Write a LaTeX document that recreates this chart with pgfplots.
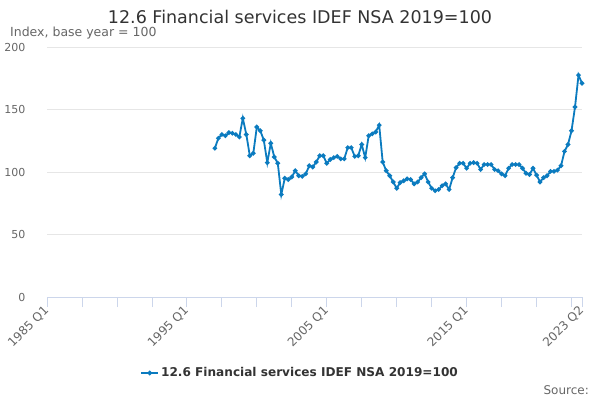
\documentclass[border=0pt]{standalone}
\usepackage{pgfplots}
\pgfplotsset{compat=1.18}
\usepackage{fontspec}
\setmainfont{DejaVu Sans}
\definecolor{serie}{HTML}{0B7BBF}
\definecolor{gridc}{HTML}{E6E6E6}
\definecolor{axisc}{HTML}{CCD6EB}
\definecolor{labc}{HTML}{666666}
\definecolor{titc}{HTML}{333333}
\begin{document}
\begin{tikzpicture}[x=1bp,y=1bp]
\path[use as bounding box] (0,0) rectangle (600,400);
\node[anchor=base,text=titc,font=\fontsize{17.5bp}{19bp}\selectfont,inner sep=0] at (300,377) {12.6 Financial services IDEF NSA 2019=100};
\node[anchor=base west,text=labc,font=\fontsize{12.5bp}{14bp}\selectfont,inner sep=0] at (10,364) {Index, base year = 100};
\node[anchor=base east,text=labc,font=\fontsize{12bp}{14bp}\selectfont,inner sep=0] at (589,6) {Source:};
\begin{axis}[
  at={(47bp,103bp)}, anchor=south west, scale only axis,
  width=535bp, height=250bp,
  xmin=0, xmax=153, ymin=0, ymax=200,
  axis x line*=bottom, axis y line*=left,
  y axis line style={draw=none},
  x axis line style={draw=axisc, line width=1bp},
  ytick={0,50,100,150,200},
  ymajorgrids, grid style={gridc, line width=0.8bp},
  ytick style={draw=none},
  yticklabel style={text=labc, font=\fontsize{11bp}{13bp}\selectfont, xshift=-8bp},
  xtick={0,40,80,120,153},
  xticklabels={1985 Q1,1995 Q1,2005 Q1,2015 Q1,2023 Q2},
  minor xtick={10,20,30,50,60,70,90,100,110,130,140,150},
  tick align=outside,
  xtick style={draw=axisc, line width=0.8bp},
  major tick length=10bp, minor tick length=10bp,
  xticklabel style={rotate=45, anchor=east, text=labc, font=\fontsize{12bp}{14bp}\selectfont, yshift=-1bp, xshift=2bp},
  /pgf/number format/assume math mode=true,
  legend style={at={(0.473,-0.304)}, anchor=center, draw=none, fill=none,
    font=\bfseries\fontsize{12.1bp}{14bp}\selectfont, text=titc},
  legend cell align=left,
  clip=false,
]
\addplot[serie, line width=1.8bp, mark=*, mark size=1.3bp, mark options={fill=serie, draw=serie}] coordinates {
(48,119) (49,127) (50,130) (51,129) (52,131.5) (53,131) (54,130) (55,128)
(56,143) (57,130) (58,113) (59,115) (60,136) (61,133) (62,125.5) (63,107.5)
(64,123) (65,112) (66,107) (67,82) (68,95) (69,94) (70,96) (71,101)
(72,97) (73,96.5) (74,98.5) (75,105) (76,104) (77,108) (78,113) (79,113)
(80,107) (81,110) (82,111.5) (83,112.5) (84,110.5) (85,110.5) (86,119.5) (87,119.5)
(88,112.5) (89,113) (90,122) (91,111.5) (92,129) (93,130.5) (94,132) (95,137.5)
(96,108) (97,101) (98,97) (99,92) (100,87) (101,91.5) (102,93) (103,94.5)
(104,94) (105,90.5) (106,92) (107,95.5) (108,98.5) (109,92) (110,87) (111,85)
(112,86) (113,89) (114,90.5) (115,86) (116,95.5) (117,103.5) (118,107) (119,107)
(120,103) (121,107) (122,107.5) (123,107) (124,102) (125,106) (126,106) (127,106)
(128,102) (129,101) (130,98.5) (131,97) (132,103) (133,106) (134,106) (135,106)
(136,103) (137,99) (138,98) (139,103) (140,97.5) (141,92) (142,95.5) (143,97)
(144,100.5) (145,100.5) (146,101.5) (147,105) (148,116.5) (149,122) (150,133) (151,152)
(152,177.5) (153,171)
};
\addlegendentry{12.6 Financial services IDEF NSA 2019=100}
\end{axis}
\end{tikzpicture}
\end{document}
